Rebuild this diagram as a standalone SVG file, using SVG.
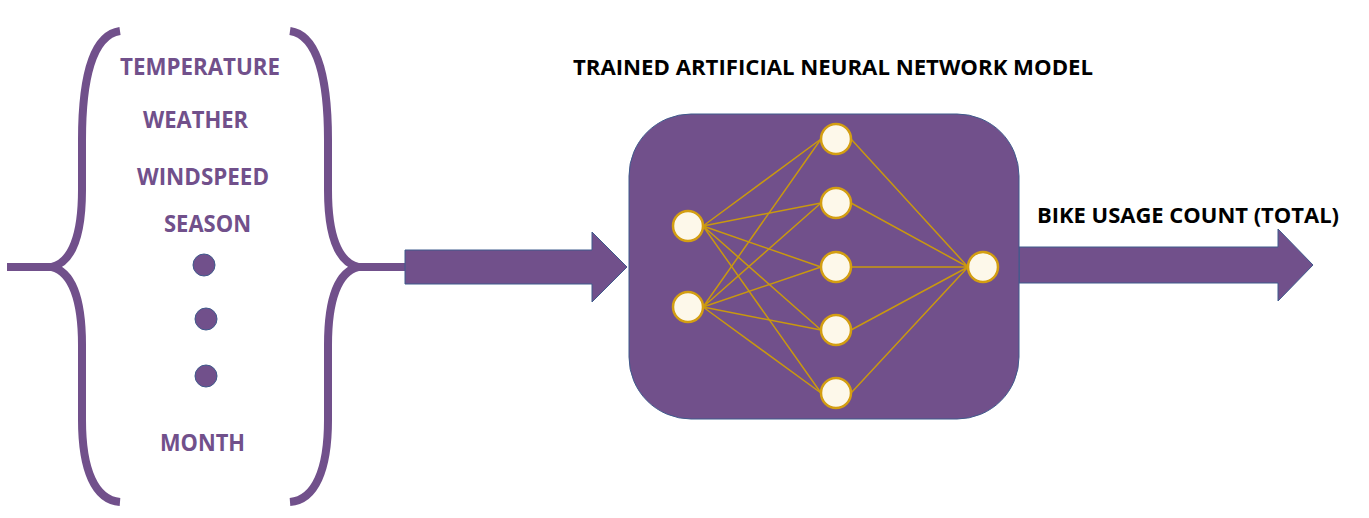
<svg xmlns="http://www.w3.org/2000/svg" width="1369" height="518" viewBox="0 0 1369 518">
<style>
.brace{fill:none;stroke:#71508B;stroke-width:8}
.ptxt{font-family:"Open Sans","Liberation Sans",sans-serif;font-weight:bold;fill:#71508B;font-size:24px}
.btxt{font-family:"Open Sans","Liberation Sans",sans-serif;font-weight:bold;fill:#000;font-size:21px}
.dot{fill:#71508B;stroke:#3F5A8C;stroke-width:1}
.arrow{fill:#71508B;stroke:#3F5A8C;stroke-width:1}
.neuron{fill:#FDF8EA;stroke:#D39E12;stroke-width:2.5}
.edge{stroke:#C9980F;stroke-width:1.5;fill:none}
</style>
<rect width="1369" height="518" fill="#fff"/>
<g id="inputs">
<path class="brace" d="M120,31 C92,35 82,80 82,140 L82,190 C82,235 72,262 52,267 C72,272 82,300 82,345 L82,420 C82,470 95,500 120,502"/>
<path class="brace" d="M7,267 L52,267"/>
<path class="brace" d="M290,31 C318,35 328,80 328,140 L328,190 C328,235 338,262 358,267 C338,272 328,300 328,345 L328,420 C328,470 315,500 290,502"/>
<path class="brace" d="M358,267 L405,267"/>
<text class="ptxt" x="120" y="75" textLength="160" lengthAdjust="spacingAndGlyphs">TEMPERATURE</text>
<text class="ptxt" x="143" y="128" textLength="105" lengthAdjust="spacingAndGlyphs">WEATHER</text>
<text class="ptxt" x="137" y="185" textLength="132" lengthAdjust="spacingAndGlyphs">WINDSPEED</text>
<text class="ptxt" x="164" y="232" textLength="87" lengthAdjust="spacingAndGlyphs">SEASON</text>
<circle class="dot" cx="204" cy="265" r="11"/>
<circle class="dot" cx="206" cy="319" r="11"/>
<circle class="dot" cx="206" cy="376" r="11"/>
<text class="ptxt" x="160" y="451" textLength="85" lengthAdjust="spacingAndGlyphs">MONTH</text>
</g>
<g id="connectors">
<path class="arrow" d="M405,250 L592,250 L592,232 L627,267 L592,302 L592,284 L405,284 Z"/>
<path class="arrow" d="M1019,247 L1278,247 L1278,229 L1313,265 L1278,301 L1278,283 L1019,283 Z"/>
</g>
<g id="model">
<text class="btxt" x="573" y="75" textLength="520" lengthAdjust="spacingAndGlyphs">TRAINED ARTIFICIAL NEURAL NETWORK MODEL</text>
<rect x="629" y="114" width="390" height="305" rx="62" ry="62" fill="#71508B" stroke="#3F5A8C" stroke-width="1"/>
<g id="edges">
<path class="edge" d="M703,226 L821,139 M703,226 L821,203 M703,226 L821,267 M703,226 L821,330 M703,226 L821,393"/>
<path class="edge" d="M703,307 L821,139 M703,307 L821,203 M703,307 L821,267 M703,307 L821,330 M703,307 L821,393"/>
<path class="edge" d="M851,139 L968,267 M851,203 L968,267 M851,267 L968,267 M851,330 L968,267 M851,393 L968,267"/>
</g>
<g id="neurons">
<circle class="neuron" cx="688" cy="226" r="15"/>
<circle class="neuron" cx="688" cy="307" r="15"/>
<circle class="neuron" cx="836" cy="139" r="15"/>
<circle class="neuron" cx="836" cy="203" r="15"/>
<circle class="neuron" cx="836" cy="267" r="15"/>
<circle class="neuron" cx="836" cy="330" r="15"/>
<circle class="neuron" cx="836" cy="393" r="15"/>
<circle class="neuron" cx="983" cy="267" r="15"/>
</g>
</g>
<g id="output">
<text class="btxt" x="1037" y="223" textLength="302" lengthAdjust="spacingAndGlyphs">BIKE USAGE COUNT (TOTAL)</text>
</g>
</svg>
